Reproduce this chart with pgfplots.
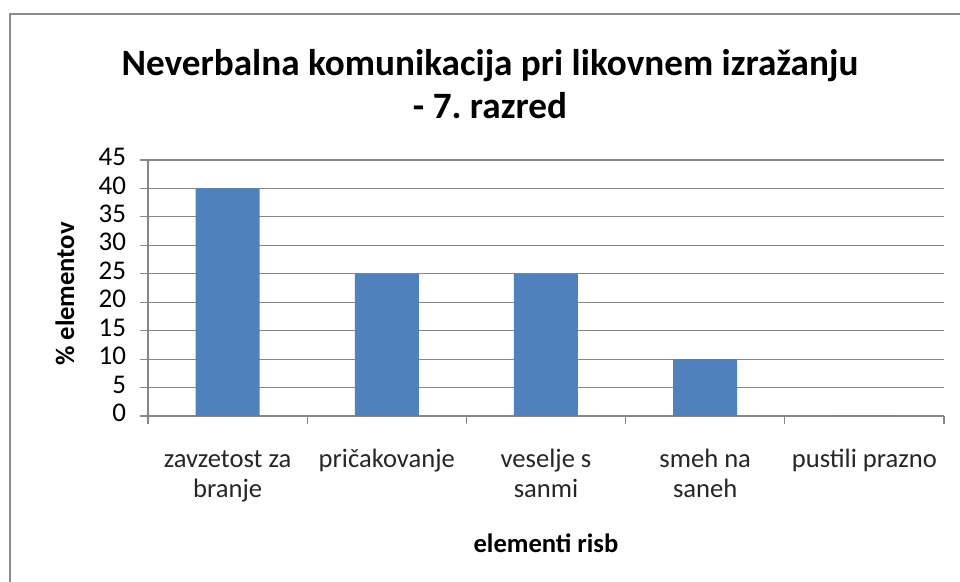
\documentclass[border=0pt]{standalone}
\usepackage{pgfplots}
\pgfplotsset{compat=1.18}
\usepackage{fontspec}
\setmainfont{Carlito}
\frenchspacing
\definecolor{barblue}{HTML}{4F81BD}
\definecolor{gridgray}{HTML}{868686}
\definecolor{framegray}{HTML}{8C8C8C}
\begin{document}
\begin{tikzpicture}
\path[use as bounding box] (0,0) rectangle (480pt,291pt);
\draw[framegray, line width=1pt] (5pt,0) -- (5pt,284pt) -- (480pt,284pt);
\begin{axis}[
  at={(74pt,83pt)}, anchor=south west,
  scale only axis, width=398pt, height=128pt,
  xmin=-0.5, xmax=4.5, ymin=0, ymax=45,
  ytick={0,5,...,45},
  xtick={0,1,2,3,4},
  xticklabels={{zavzetost za\\branje},{pričakovanje},{veselje s\\sanmi},{smeh na\\saneh},{pustili prazno}},
  minor xtick={-0.5,0.5,1.5,2.5,3.5,4.5},
  major x tick style={draw=none},
  tick style={gridgray, line width=0.6pt},
  major tick length=4pt, minor tick length=4pt,
  tick align=outside,
  xtick pos=bottom, ytick pos=left,
  ymajorgrids, grid style={gridgray, line width=0.6pt},
  axis x line*=bottom, axis y line*=left,
  axis line style={gridgray, line width=0.6pt},
  x axis line style={-}, y axis line style={-},
  xticklabel style={align=center, font=\fontsize{13.3}{15}\selectfont, text=black!85},
  yticklabel style={font=\fontsize{13.5}{14}\selectfont, text=black},
  /pgf/number format/assume math mode=true,
  typeset ticklabels with strut,
  x tick label style={yshift=-7.5pt},
  y tick label style={xshift=-3.5pt},
]
\addplot[ybar, bar width=32pt, fill=barblue, draw=none] coordinates {(0,40) (1,25) (2,25) (3,10) (4,0)};
\end{axis}
\node[font=\bfseries\fontsize{18.6}{21.5}\selectfont, align=center, anchor=center] at (245pt,249pt) {Neverbalna komunikacija pri likovnem izražanju\\- 7. razred};
\node[font=\bfseries\fontsize{13.3}{15}\selectfont, rotate=90] at (32.5pt,144pt) {\% elementov};
\node[font=\bfseries\fontsize{13.3}{15}\selectfont] at (273pt,19.5pt) {elementi risb};
\end{tikzpicture}
\end{document}
